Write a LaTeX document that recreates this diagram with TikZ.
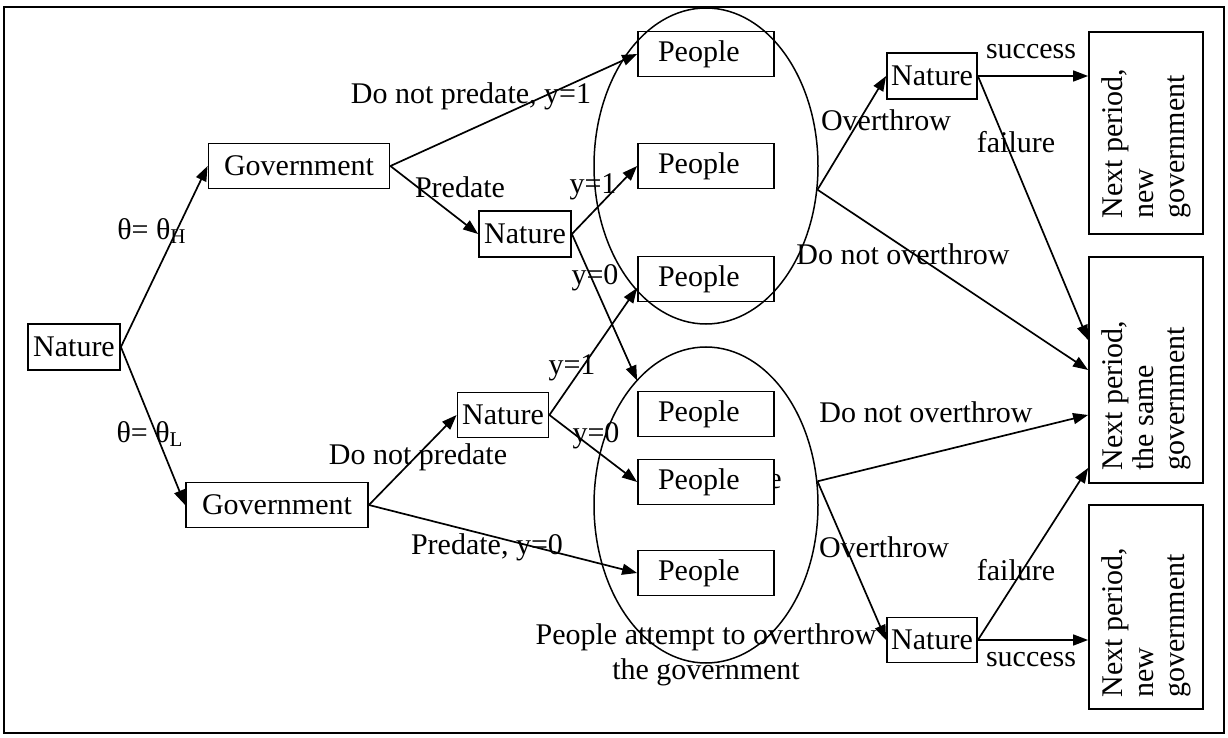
\documentclass[tikz,border=0pt]{standalone}
\usepackage{fontspec}
\setmainfont{Liberation Serif}
\usetikzlibrary{arrows.meta,shapes.geometric}
\begin{document}
\begin{tikzpicture}[x=0.5pt,y=-0.5pt,font=\fontsize{15}{17}\selectfont]
  \tikzset{
    move/.style={-{Triangle[length=7.5pt,width=5.5pt]},line width=0.85pt},
    box/.style={draw,line width=0.9pt,inner sep=0pt,minimum height=22.5pt},
    pbox/.style={box,minimum width=68pt,text width=48pt,align=left},
    nbox/.style={draw,line width=0.9pt,inner sep=0pt,minimum width=57pt},
    ntext/.style={rotate=90,anchor=west,align=left,inner sep=0pt,font=\fontsize{15}{15.5}\selectfont},
    club/.style={ellipse,draw,line width=0.75pt,inner sep=0pt,minimum width=112pt,minimum height=158pt},
  }
  \useasboundingbox (0,0) rectangle (1228,738);
  \draw[line width=0.9pt] (4,7) rectangle (1224,733);
  % moves of nature and government
  \node[box,minimum width=46pt,minimum height=23pt] (n0) at (74,347) {Nature};
  \node[box,minimum width=90.5pt] (gH) at (299,166) {Government};
  \node[box,minimum width=91pt] (gL) at (277,505) {Government};
  \node[box,minimum width=46pt,minimum height=23pt] (nH) at (525,234) {Nature};
  \node[box,minimum width=45.5pt] (nL) at (503,415) {Nature};
  % people
  \node[pbox] (p1) at (706,54) {People};
  \node[pbox] (p2) at (706,166) {People};
  \node[pbox] (p3) at (706,279) {People};
  \node[pbox] (p4) at (706,414) {People};
  \node[pbox] (p5) at (706,482) {People};
  \node[pbox] (p6) at (706,573) {People};
  \begin{scope}
    \clip (775,462) rectangle (800,502);
    \node[anchor=east,inner sep=0pt] (ghost) at (782,482) {e};
  \end{scope}
  \node[club] (cH) at (706,166) {};
  \node[club] (cL) at (706,505) {};
  \node[align=center,font=\fontsize{15}{17.5}\selectfont] (cap) at (706,655) {People attempt to overthrow\\the government};
  % overthrow stage
  \node[box,minimum width=45pt,minimum height=23pt] (nTR) at (932,76) {Nature};
  \node[box,minimum width=45pt] (nBR) at (932,640) {Nature};
  \node[nbox,minimum height=101pt] (xTop) at (1146,133) {};
  \node[nbox,minimum height=113pt] (xMid) at (1146,370) {};
  \node[nbox,minimum height=102pt] (xBot) at (1146,607) {};
  \node[ntext] (tTop) at ([yshift=8pt]xTop.south) {Next period,\\new\\government};
  \node[ntext] (tMid) at ([yshift=6.5pt]xMid.south) {Next period,\\the same\\government};
  \node[ntext] (tBot) at ([yshift=6pt]xBot.south) {Next period,\\new\\government};
  % arrows
  \draw[move] (n0.east) -- (gH.west);
  \draw[move] (n0.east) -- (gL.west);
  \draw[move] (gH.east) -- (p1.west);
  \draw[move] (gH.east) -- (nH.west);
  \draw[move] (nH.east) -- (p2.west);
  \draw[move] (nH.east) -- ([yshift=5pt]p4.north west);
  \draw[move] (gL.east) -- (nL.west);
  \draw[move] (gL.east) -- (p6.west);
  \draw[move] (nL.east) -- ([yshift=-4.5pt]p3.west);
  \draw[move] (nL.east) -- (p5.west);
  \draw[move] (cH.-12) -- (nTR.west);
  \draw[move] (cH.-12) -- (xMid.west);
  \draw[move] (cL.12) -- ([yshift=-22.5pt]xMid.west);
  \draw[move] (cL.12) -- (nBR.west);
  \draw[move] (nTR.east) -- (nTR.east -| xTop.west);
  \draw[move] (nTR.east) -- ([yshift=15pt]xMid.west);
  \draw[move] (nBR.east) -- ([yshift=-49pt]xMid.west);
  \draw[move] (nBR.east) -- (nBR.east -| xBot.west);
  % labels
  \node (lH) at (152,231) {θ= θ\textsubscript{H}};
  \node (lL) at (150,434) {θ= θ\textsubscript{L}};
  \node (l1) at (471,96) {Do not predate, y=1};
  \node (l2) at (460,187) {Predate};
  \node (l3) at (593,187) {y=1};
  \node (l4) at (595,278) {y=0};
  \node (l5) at (572,368) {y=1};
  \node (l6) at (596,436) {y=0};
  \node (l7) at (418,457) {Do not predate};
  \node (l8) at (487,547) {Predate, y=0};
  \node (o1) at (886,120) {Overthrow};
  \node (o2) at (903,254) {Do not overthrow};
  \node (o3) at (926,412) {Do not overthrow};
  \node (o4) at (884,547) {Overthrow};
  \node (s1) at (1031,52) {success};
  \node (f1) at (1016,142) {failure};
  \node (f2) at (1016,570) {failure};
  \node (s2) at (1031,660) {success};
\end{tikzpicture}
\end{document}
